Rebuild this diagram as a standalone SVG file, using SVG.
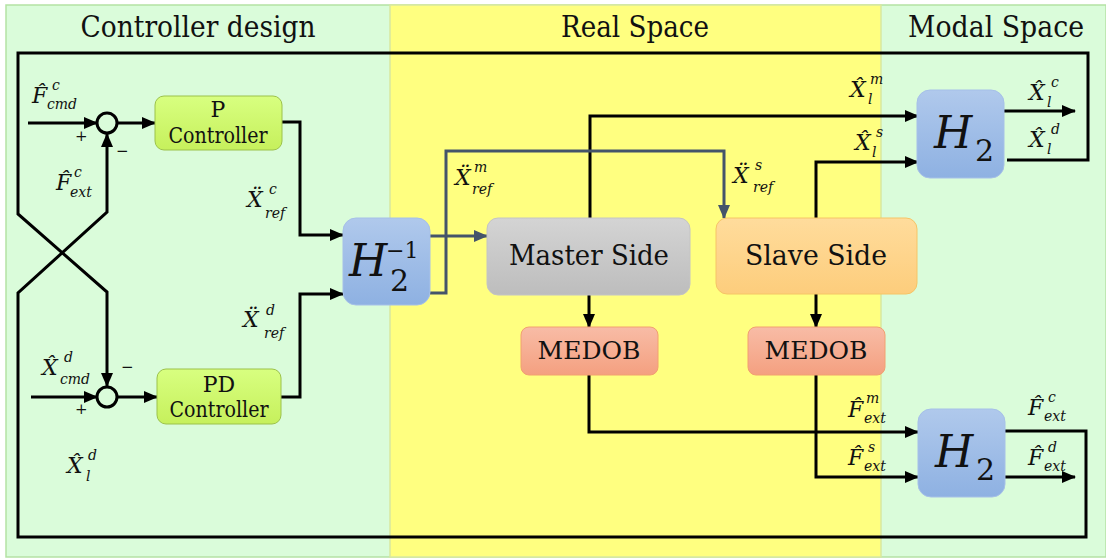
<svg xmlns="http://www.w3.org/2000/svg" width="1106" height="559" viewBox="0 0 1106 559">
<defs>
<style>
text{font-family:"DejaVu Serif","Liberation Serif",serif;fill:#111}
.title{font-size:29px;text-anchor:middle}
.lbl{font-size:22px;text-anchor:middle}
.big{font-size:28px;text-anchor:middle}
.med{font-size:24px;text-anchor:middle}
.m{font-style:italic;font-size:22px}
.s{font-style:italic;font-size:14px}
.sign{font-size:15px}
.Hm{font-style:italic;font-size:44px}
.Hs{font-size:30px}
.Hp{font-size:22px}
.w{fill:none;stroke:#000;stroke-width:3}
.sl{fill:none;stroke:#44546a;stroke-width:3}
</style>
<linearGradient id="gG" x1="0" y1="0" x2="0" y2="1"><stop offset="0" stop-color="#d8ff80"/><stop offset="1" stop-color="#c6f05c"/></linearGradient>
<linearGradient id="gB" x1="0" y1="0" x2="0" y2="1"><stop offset="0" stop-color="#b0c9ec"/><stop offset="1" stop-color="#8eb1e2"/></linearGradient>
<linearGradient id="gM" x1="0" y1="0" x2="0" y2="1"><stop offset="0" stop-color="#d4d4d4"/><stop offset="1" stop-color="#bdbdbd"/></linearGradient>
<linearGradient id="gS" x1="0" y1="0" x2="0" y2="1"><stop offset="0" stop-color="#ffdc9c"/><stop offset="1" stop-color="#fdcd7c"/></linearGradient>
<linearGradient id="gR" x1="0" y1="0" x2="0" y2="1"><stop offset="0" stop-color="#f8bca6"/><stop offset="1" stop-color="#f4a080"/></linearGradient>
<marker id="ak" markerUnits="userSpaceOnUse" markerWidth="14" markerHeight="12" refX="13" refY="6" orient="auto"><path d="M0,0 L14,6 L0,12 Z" fill="#000"/></marker>
<marker id="as" markerUnits="userSpaceOnUse" markerWidth="14" markerHeight="12" refX="13" refY="6" orient="auto"><path d="M0,0 L14,6 L0,12 Z" fill="#44546a"/></marker>
</defs>

<g id="background">
<rect x="6" y="5" width="1100" height="552" fill="#dafcda" stroke="#b4e2a4" stroke-width="1.5"/>
<rect x="390" y="5" width="491" height="552" fill="#ffff80" stroke="#d8e8a0" stroke-width="1.5"/>
<text class="title" x="198" y="37" textLength="235" lengthAdjust="spacingAndGlyphs">Controller design</text>
<text class="title" x="635" y="37" textLength="148" lengthAdjust="spacingAndGlyphs">Real Space</text>
<text class="title" x="996" y="37" textLength="176" lengthAdjust="spacingAndGlyphs">Modal Space</text>
</g>

<g id="connectors">
<path class="w" d="M1007,160 H1088 V53 H18 V214 L107,292 V386" marker-end="url(#ak)"/>
<path class="w" d="M1005,431 H1086 V537 H18 V293 L107,212 V134" marker-end="url(#ak)"/>
<path class="w" d="M28,123 H97" marker-end="url(#ak)"/>
<path class="w" d="M31,397 H97" marker-end="url(#ak)"/>
<path class="w" d="M117,123 H155" marker-end="url(#ak)"/>
<path class="w" d="M117,397 H157" marker-end="url(#ak)"/>
<path class="w" d="M282,122 H300 V235 H343" marker-end="url(#ak)"/>
<path class="w" d="M281,397 H300 V294 H343" marker-end="url(#ak)"/>
<path class="w" d="M590,218 V116 H918" marker-end="url(#ak)"/>
<path class="w" d="M816,218 V162 H918" marker-end="url(#ak)"/>
<path class="sl" d="M430,236 H487" marker-end="url(#as)"/>
<path class="sl" d="M430,293 H446 V151 H724 V218" marker-end="url(#as)"/>
<path class="w" d="M589,295 V327" marker-end="url(#ak)"/>
<path class="w" d="M816,294 V327" marker-end="url(#ak)"/>
<path class="w" d="M589,375 V432 H918" marker-end="url(#ak)"/>
<path class="w" d="M816,375 V477 H918" marker-end="url(#ak)"/>
<path class="w" d="M1004,111 H1075" marker-end="url(#ak)"/>
<path class="w" d="M1005,477 H1075" marker-end="url(#ak)"/>
</g>

<g id="sum1"><circle cx="107" cy="123" r="10" fill="none" stroke="#000" stroke-width="3"/><text class="sign" x="75" y="141">+</text><text class="sign" x="116" y="156">−</text></g>
<g id="sum2"><circle cx="107" cy="397" r="10" fill="none" stroke="#000" stroke-width="3"/><text class="sign" x="75" y="414">+</text><text class="sign" x="121" y="372">−</text></g>

<g id="p-controller"><rect x="155" y="96" width="127" height="54" rx="9" fill="url(#gG)" stroke="#9cc24a"/><text class="lbl" x="218" y="117">P</text><text class="lbl" x="218" y="143" textLength="99" lengthAdjust="spacingAndGlyphs">Controller</text></g>
<g id="pd-controller"><rect x="157" y="369" width="124" height="55" rx="9" fill="url(#gG)" stroke="#9cc24a"/><text class="lbl" x="219" y="392">PD</text><text class="lbl" x="219" y="417" textLength="99" lengthAdjust="spacingAndGlyphs">Controller</text></g>

<g id="h2inv"><rect x="343" y="218" width="87" height="87" rx="13" fill="url(#gB)" stroke="#a6c0e8"/><text class="Hm" x="349" y="276">H</text><text class="Hs" x="390" y="291">2</text><text class="Hp" x="386" y="258">−1</text></g>
<g id="master"><rect x="487" y="218" width="203" height="77" rx="11" fill="url(#gM)" stroke="#c4c4c4"/><text class="big" x="589" y="265" textLength="160" lengthAdjust="spacingAndGlyphs">Master Side</text></g>
<g id="slave"><rect x="716" y="218" width="201" height="76" rx="11" fill="url(#gS)" stroke="#f6c466"/><text class="big" x="816" y="265" textLength="142" lengthAdjust="spacingAndGlyphs">Slave Side</text></g>
<g id="medob1"><rect x="521" y="327" width="137" height="48" rx="8" fill="url(#gR)" stroke="#f2a070"/><text class="med" x="589" y="359" textLength="103" lengthAdjust="spacingAndGlyphs">MEDOB</text></g>
<g id="medob2"><rect x="748" y="327" width="137" height="48" rx="8" fill="url(#gR)" stroke="#f2a070"/><text class="med" x="816" y="359" textLength="103" lengthAdjust="spacingAndGlyphs">MEDOB</text></g>
<g id="h2top"><rect x="917" y="90" width="87" height="88" rx="13" fill="url(#gB)" stroke="#a6c0e8"/><text class="Hm" x="934" y="148">H</text><text class="Hs" x="975" y="161">2</text></g>
<g id="h2bot"><rect x="918" y="409" width="87" height="88" rx="13" fill="url(#gB)" stroke="#a6c0e8"/><text class="Hm" x="935" y="467">H</text><text class="Hs" x="976" y="480">2</text></g>

<g id="labels">
<g><text class="m" x="32" y="103">F̂</text><text class="s" x="52" y="90">c</text><text class="s" x="47" y="109">cmd</text></g>
<g><text class="m" x="56" y="190">F̂</text><text class="s" x="74" y="177">c</text><text class="s" x="70" y="197">ext</text></g>
<g><text class="m" x="247" y="207">Ẍ</text><text class="s" x="269" y="194">c</text><text class="s" x="265" y="218">ref</text></g>
<g><text class="m" x="243" y="327">Ẍ</text><text class="s" x="266" y="315">d</text><text class="s" x="264" y="338">ref</text></g>
<g><text class="m" x="42" y="375">X̂</text><text class="s" x="64" y="362">d</text><text class="s" x="60" y="384">cmd</text></g>
<g><text class="m" x="67" y="473">X̂</text><text class="s" x="88" y="460">d</text><text class="s" x="86" y="481">l</text></g>
<g><text class="m" x="455" y="185">Ẍ</text><text class="s" x="474" y="172">m</text><text class="s" x="472" y="194">ref</text></g>
<g><text class="m" x="733" y="183">Ẍ</text><text class="s" x="755" y="170">s</text><text class="s" x="753" y="192">ref</text></g>
<g><text class="m" x="850" y="97">X̂</text><text class="s" x="870" y="84">m</text><text class="s" x="868" y="104">l</text></g>
<g><text class="m" x="855" y="150">X̂</text><text class="s" x="876" y="137">s</text><text class="s" x="872" y="157">l</text></g>
<g><text class="m" x="1029" y="100">X̂</text><text class="s" x="1051" y="87">c</text><text class="s" x="1047" y="107">l</text></g>
<g><text class="m" x="1029" y="147">X̂</text><text class="s" x="1051" y="134">d</text><text class="s" x="1047" y="154">l</text></g>
<g><text class="m" x="848" y="417">F̂</text><text class="s" x="866" y="403">m</text><text class="s" x="864" y="423">ext</text></g>
<g><text class="m" x="848" y="465">F̂</text><text class="s" x="868" y="452">s</text><text class="s" x="864" y="471">ext</text></g>
<g><text class="m" x="1028" y="415">F̂</text><text class="s" x="1048" y="402">c</text><text class="s" x="1044" y="421">ext</text></g>
<g><text class="m" x="1028" y="465">F̂</text><text class="s" x="1048" y="452">d</text><text class="s" x="1044" y="471">ext</text></g>
</g>
</svg>
